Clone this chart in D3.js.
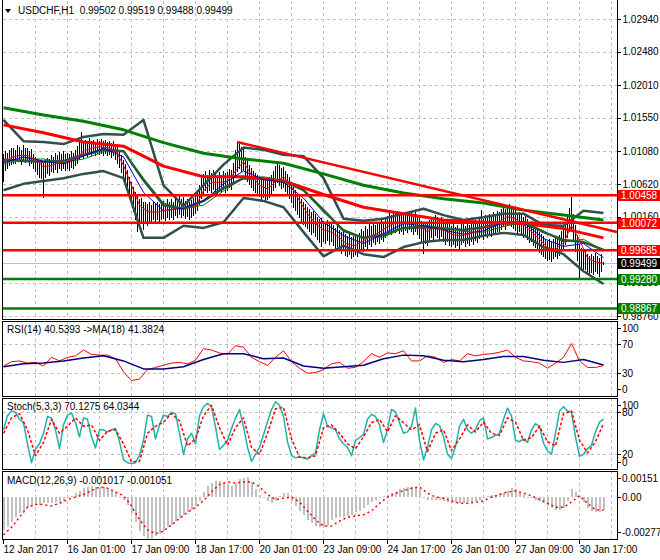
<!DOCTYPE html>
<html>
<head>
<meta charset="utf-8">
<script src="https://cdn.jsdelivr.net/npm/d3@7/dist/d3.min.js"></script>
<style>
  body { margin: 0; background: #fff; }
  svg text { font-family: 'Liberation Sans', Arial, sans-serif; font-size: 10px; white-space: pre; }
</style>
</head>
<body>
<svg id="chart" width="660" height="560"></svg>
<script>
// ---- data (H1 bars, bar 0 = 12 Jan 2017) ----
var symbol = 'USDCHF,H1';
var lastBar = [0.99502, 0.99519, 0.99488, 0.99499];
var timeLabels = ['12 Jan 2017', '16 Jan 01:00', '17 Jan 09:00', '18 Jan 17:00', '20 Jan 01:00',
  '23 Jan 09:00', '24 Jan 17:00', '26 Jan 01:00', '27 Jan 09:00', '30 Jan 17:00'];
var priceTicks = [1.02940, 1.02480, 1.02010, 1.01550, 1.01080, 1.00620, 1.00160, 0.99700, 0.99230, 0.98760];
var redLevels = [1.00458, 1.00072, 0.99685];
var greenLevels = [0.99280, 0.98867];
var trendStart = [117, 1.0121];
var trendEnd = [300, 0.9999];
var rsiLevels = [100, 70, 30, 0];
var stochLevels = [100, 80, 20, 0];
var macdTicks = [0.00151, 0, -0.002771];

var closes = [
  1.0090,1.0096,1.0094,1.0099,1.0097,1.0102,1.0100,1.0105,1.0103,1.0099,1.0106,1.0102,1.0104,1.0098,1.0101,1.0094,
  1.0090,1.0086,1.0082,1.0085,1.0080,1.0084,1.0088,1.0086,1.0091,1.0089,1.0094,1.0091,1.0095,1.0092,1.0096,1.0093,
  1.0095,1.0092,1.0097,1.0094,1.0099,1.0104,1.0108,1.0112,1.0109,1.0113,1.0111,1.0115,1.0112,1.0114,1.0111,1.0115,
  1.0113,1.0116,1.0112,1.0115,1.0111,1.0113,1.0110,1.0112,1.0107,1.0104,1.0097,1.0090,1.0084,1.0076,1.0068,1.0058,
  1.0050,1.0042,1.0036,1.0030,1.0025,1.0028,1.0021,1.0024,1.0019,1.0023,1.0020,1.0024,1.0021,1.0025,1.0022,1.0024,
  1.0026,1.0023,1.0027,1.0024,1.0028,1.0025,1.0030,1.0027,1.0032,1.0028,1.0031,1.0026,1.0029,1.0024,1.0027,1.0030,
  1.0033,1.0038,1.0047,1.0056,1.0062,1.0066,1.0061,1.0067,1.0063,1.0068,1.0064,1.0060,1.0066,1.0062,1.0067,1.0064,
  1.0066,1.0070,1.0068,1.0078,1.0088,1.0094,1.0099,1.0093,1.0096,1.0086,1.0080,1.0075,1.0071,1.0067,1.0064,1.0060,
  1.0058,1.0054,1.0057,1.0052,1.0055,1.0058,1.0062,1.0066,1.0072,1.0078,1.0074,1.0070,1.0072,1.0066,1.0062,1.0056,
  1.0050,1.0044,1.0040,1.0034,1.0030,1.0026,1.0022,1.0018,1.0016,1.0011,1.0008,1.0010,1.0004,1.0001,0.9998,1.0000,
  0.9996,0.9993,0.9997,0.9992,0.9995,0.9990,0.9986,0.9989,0.9983,0.9980,0.9984,0.9977,0.9974,0.9978,0.9972,0.9975,
  0.9977,0.9974,0.9980,0.9984,0.9982,0.9988,0.9985,0.9991,0.9988,0.9994,0.9990,0.9995,0.9992,0.9998,0.9995,1.0001,
  1.0004,1.0008,1.0005,1.0010,1.0007,1.0011,1.0006,1.0009,1.0005,1.0010,1.0007,1.0011,1.0008,1.0004,1.0009,1.0005,
  1.0000,0.9996,0.9993,0.9995,0.9991,0.9997,1.0002,0.9999,1.0004,1.0001,0.9998,1.0002,0.9996,0.9993,0.9997,0.9991,
  0.9988,0.9992,0.9987,0.9990,0.9986,0.9991,0.9994,0.9989,0.9993,0.9990,0.9995,0.9992,0.9997,0.9994,1.0000,1.0003,
  0.9999,1.0004,1.0001,1.0006,1.0003,1.0008,1.0005,1.0010,1.0008,1.0013,1.0016,1.0013,1.0018,1.0020,1.0016,1.0014,
  1.0011,1.0007,1.0009,1.0004,1.0001,1.0003,0.9998,0.9994,0.9996,0.9990,0.9987,0.9984,0.9980,0.9977,0.9974,0.9971,
  0.9968,0.9970,0.9966,0.9970,0.9973,0.9971,0.9976,0.9981,0.9986,0.9993,1.0002,1.0010,1.0016,1.0002,0.9985,0.9972,
  0.9962,0.9958,0.9953,0.9956,0.9950,0.9947,0.9951,0.9948,0.9953,0.9949,0.9946,0.9951,0.9950
];
var highs = [
  1.0104,1.0108,1.0105,1.0110,1.0112,1.0113,1.0109,1.0116,1.0114,1.0110,1.0117,1.0112,1.0113,1.0108,1.0111,1.0104,
  1.0100,1.0097,1.0094,1.0096,1.0092,1.0095,1.0099,1.0097,1.0103,1.0100,1.0106,1.0102,1.0107,1.0104,1.0108,1.0104,
  1.0105,1.0104,1.0108,1.0106,1.0110,1.0115,1.0122,1.0135,1.0121,1.0124,1.0122,1.0126,1.0122,1.0124,1.0121,1.0125,
  1.0123,1.0125,1.0122,1.0124,1.0121,1.0123,1.0120,1.0122,1.0118,1.0114,1.0109,1.0102,1.0096,1.0090,1.0082,1.0072,
  1.0064,1.0058,1.0050,1.0046,1.0040,1.0042,1.0036,1.0037,1.0033,1.0036,1.0032,1.0036,1.0033,1.0037,1.0034,1.0036,
  1.0038,1.0035,1.0040,1.0036,1.0040,1.0037,1.0043,1.0039,1.0046,1.0041,1.0044,1.0038,1.0041,1.0036,1.0039,1.0042,
  1.0045,1.0052,1.0060,1.0070,1.0076,1.0080,1.0075,1.0081,1.0077,1.0082,1.0077,1.0074,1.0079,1.0075,1.0080,1.0077,
  1.0079,1.0083,1.0082,1.0092,1.0110,1.0121,1.0118,1.0114,1.0112,1.0100,1.0094,1.0089,1.0084,1.0080,1.0077,1.0074,
  1.0071,1.0068,1.0070,1.0066,1.0068,1.0071,1.0075,1.0080,1.0087,1.0093,1.0088,1.0084,1.0086,1.0080,1.0076,1.0071,
  1.0064,1.0058,1.0054,1.0049,1.0045,1.0041,1.0037,1.0033,1.0030,1.0026,1.0023,1.0024,1.0019,1.0016,1.0013,1.0014,
  1.0010,1.0007,1.0011,1.0006,1.0009,1.0004,1.0000,1.0002,0.9997,0.9994,0.9998,0.9991,0.9989,0.9992,0.9987,0.9989,
  0.9990,0.9988,0.9993,0.9998,0.9996,1.0002,0.9999,1.0005,1.0002,1.0008,1.0004,1.0009,1.0006,1.0012,1.0009,1.0015,
  1.0017,1.0021,1.0018,1.0023,1.0020,1.0024,1.0019,1.0022,1.0018,1.0023,1.0020,1.0024,1.0021,1.0017,1.0022,1.0018,
  1.0014,1.0010,1.0008,1.0009,1.0006,1.0011,1.0016,1.0013,1.0018,1.0015,1.0012,1.0016,1.0010,1.0008,1.0011,1.0005,
  1.0002,1.0006,1.0001,1.0004,1.0000,1.0005,1.0008,1.0003,1.0007,1.0004,1.0009,1.0006,1.0011,1.0008,1.0014,1.0025,
  1.0013,1.0018,1.0015,1.0020,1.0017,1.0022,1.0019,1.0024,1.0022,1.0027,1.0030,1.0027,1.0032,1.0034,1.0030,1.0028,
  1.0025,1.0021,1.0023,1.0018,1.0015,1.0017,1.0012,1.0008,1.0010,1.0004,1.0001,0.9998,0.9994,0.9991,0.9988,0.9985,
  0.9982,0.9984,0.9980,0.9984,0.9987,0.9985,0.9990,0.9996,1.0001,1.0008,1.0018,1.0028,1.0044,1.0020,1.0004,0.9990,
  0.9978,0.9972,0.9967,0.9969,0.9963,0.9960,0.9963,0.9960,0.9965,0.9961,0.9958,0.9963,0.9952
];
var lows = [
  1.0066,1.0082,1.0085,1.0088,1.0090,1.0091,1.0092,1.0096,1.0095,1.0090,1.0096,1.0093,1.0095,1.0089,1.0092,1.0084,
  1.0080,1.0076,1.0072,1.0070,1.0044,1.0072,1.0077,1.0074,1.0080,1.0078,1.0083,1.0079,1.0084,1.0081,1.0085,1.0082,
  1.0085,1.0082,1.0086,1.0084,1.0088,1.0092,1.0097,1.0101,1.0099,1.0102,1.0101,1.0104,1.0103,1.0105,1.0102,1.0106,
  1.0104,1.0106,1.0103,1.0105,1.0102,1.0104,1.0100,1.0102,1.0097,1.0092,1.0086,1.0078,1.0071,1.0063,1.0055,1.0044,
  1.0036,1.0024,1.0012,0.9996,1.0005,1.0010,0.9998,1.0008,1.0004,1.0009,1.0007,1.0012,1.0009,1.0013,1.0010,1.0012,
  1.0014,1.0011,1.0015,1.0012,1.0016,1.0013,1.0018,1.0015,1.0019,1.0016,1.0018,1.0014,1.0017,1.0012,1.0015,1.0018,
  1.0021,1.0025,1.0033,1.0042,1.0049,1.0053,1.0050,1.0054,1.0051,1.0055,1.0052,1.0047,1.0053,1.0050,1.0055,1.0051,
  1.0054,1.0057,1.0055,1.0064,1.0072,1.0080,1.0085,1.0080,1.0082,1.0070,1.0066,1.0062,1.0058,1.0054,1.0050,1.0047,
  1.0045,1.0040,1.0043,1.0038,1.0041,1.0044,1.0049,1.0053,1.0058,1.0064,1.0060,1.0056,1.0058,1.0052,1.0048,1.0042,
  1.0036,1.0030,1.0025,1.0019,1.0015,1.0010,1.0006,1.0002,1.0000,0.9995,0.9991,0.9994,0.9988,0.9984,0.9980,0.9975,
  0.9982,0.9979,0.9983,0.9978,0.9981,0.9976,0.9972,0.9975,0.9969,0.9965,0.9970,0.9962,0.9960,0.9963,0.9958,0.9961,
  0.9963,0.9960,0.9966,0.9970,0.9968,0.9974,0.9972,0.9977,0.9975,0.9980,0.9977,0.9981,0.9979,0.9984,0.9982,0.9987,
  0.9991,0.9995,0.9992,0.9997,0.9994,0.9998,0.9993,0.9996,0.9992,0.9997,0.9994,0.9998,0.9995,0.9991,0.9996,0.9992,
  0.9986,0.9980,0.9965,0.9979,0.9976,0.9982,0.9987,0.9985,0.9990,0.9987,0.9983,0.9988,0.9981,0.9978,0.9982,0.9976,
  0.9974,0.9978,0.9973,0.9976,0.9972,0.9977,0.9980,0.9975,0.9979,0.9976,0.9981,0.9978,0.9983,0.9980,0.9986,0.9989,
  0.9985,0.9990,0.9987,0.9992,0.9989,0.9994,0.9991,0.9996,0.9994,0.9999,1.0002,0.9999,1.0004,1.0006,1.0002,1.0000,
  0.9997,0.9993,0.9995,0.9990,0.9987,0.9989,0.9984,0.9980,0.9982,0.9976,0.9973,0.9970,0.9966,0.9963,0.9960,0.9958,
  0.9955,0.9956,0.9953,0.9957,0.9960,0.9958,0.9962,0.9967,0.9972,0.9978,0.9987,0.9995,1.0000,0.9985,0.9968,0.9955,
  0.9931,0.9942,0.9939,0.9942,0.9937,0.9934,0.9938,0.9935,0.9940,0.9936,0.9933,0.9939,0.9949
];

// indicator lines, each sampled evenly from bar 0 to bar 300
var maSlowGreen = [1.0169,1.0159,1.0150,1.0138,1.0120,1.0105,1.0097,1.0091,1.0076,1.0060,1.0049,1.0041,1.0035,1.0025,1.0018,1.0011];
var maSlowRed = [1.0145,1.0134,1.0121,1.0115,1.0087,1.0072,1.0072,1.0066,1.0047,1.0029,1.0020,1.0011,1.0008,1.0006,0.9999,0.9986];
var bandUpper = [1.0152,1.0122,1.0121,1.0118,1.0128,1.0132,1.0131,1.0152,1.0060,1.0031,1.0060,1.0089,1.0113,1.0110,1.0103,1.0101,
  1.0070,1.0013,1.0010,1.0013,1.0020,1.0027,1.0018,1.0011,1.0015,1.0020,1.0020,1.0004,1.0003,1.0024,1.0021];
var bandMiddle = [1.0096,1.0094,1.0093,1.0094,1.0103,1.0110,1.0108,1.0067,1.0032,1.0027,1.0038,1.0056,1.0070,1.0069,1.0066,1.0053,
  1.0025,0.9996,0.9986,0.9990,1.0000,1.0001,0.9999,0.9997,1.0001,1.0007,1.0008,0.9994,0.9983,0.9980,0.9969];
var bandLower = [1.0053,1.0062,1.0066,1.0070,1.0076,1.0080,1.0070,0.9986,0.9986,1.0003,1.0000,1.0008,1.0042,1.0038,1.0029,0.9994,
  0.9960,0.9975,0.9963,0.9959,0.9973,0.9980,0.9983,0.9983,0.9989,0.9993,0.9990,0.9973,0.9963,0.9939,0.9921];
var maFastRed = [1.0093,1.0099,1.0102,1.0102,1.0096,1.0086,1.0088,1.0092,1.0094,1.0097,
  1.0108,1.0112,1.0114,1.0113,1.0109,1.0088,1.0060,1.0032,1.0023,1.0022,
  1.0024,1.0026,1.0029,1.0028,1.0030,1.0052,1.0064,1.0064,1.0066,1.0080,
  1.0093,1.0074,1.0060,1.0055,1.0065,1.0072,1.0058,1.0038,1.0020,1.0006,
  0.9997,0.9994,0.9986,0.9977,0.9975,0.9982,0.9989,0.9994,1.0002,1.0007,
  1.0008,1.0008,1.0001,0.9995,1.0001,0.9997,0.9991,0.9989,0.9991,0.9994,
  1.0001,1.0004,1.0009,1.0016,1.0013,1.0004,0.9995,0.9984,0.9972,0.9970,
  0.9979,1.0003,0.9983,0.9958,0.9952,0.9950];
var maBlue = [1.0092,1.0100,1.0094,1.0090,1.0101,1.0112,1.0100,1.0050,1.0024,1.0028,1.0038,1.0062,1.0080,1.0068,1.0064,1.0042,
  1.0008,0.9989,0.9978,0.9992,1.0006,1.0003,0.9997,0.9991,0.9996,1.0008,1.0008,0.9985,0.9974,0.9978,0.9958];
var maGreen = [1.0090,1.0097,1.0097,1.0092,1.0097,1.0107,1.0108,1.0070,1.0035,1.0027,1.0032,1.0052,1.0070,1.0072,1.0066,1.0052,
  1.0022,0.9998,0.9986,0.9987,1.0000,1.0004,1.0000,0.9995,0.9994,1.0002,1.0008,0.9996,0.9980,0.9984,0.9968];

var rsi = [40,46,47,44,45,40,52,47,52,54,
  62,56,55,55,50,32,20,22,35,38,
  41,44,45,43,48,64,62,58,56,68,
  66,52,46,41,52,61,46,37,30,31,
  35,43,45,37,38,46,57,52,58,57,
  61,47,47,54,52,45,49,47,57,54,
  56,57,59,62,52,47,46,44,37,44,
  52,71,47,38,38,40.54];
var rsiMa = [39,43,44,47,51,54,47,36,36,39,49,57,57,50,51,40,37,39,41,50,55,54,48,46,49,53,53,48,45,49,41.38];

var stochMain = [55,75,82,80,70,65,35,8,27,35,
  50,74,72,55,28,62,76,79,65,45,
  72,70,45,29,55,55,52,55,57,38,
  12,8,7,8,18,40,76,74,42,62,
  76,74,80,78,50,20,42,50,35,75,
  88,93,88,59,27,33,40,57,72,84,
  60,30,10,20,30,48,66,84,95,90,
  74,38,18,15,16,15,13,18,22,55,
  78,60,58,55,42,35,30,18,40,44,
  48,70,77,74,62,37,55,84,81,65,
  50,52,60,86,40,12,30,55,64,61,
  45,20,14,31,60,70,55,50,55,68,
  72,42,44,47,50,70,86,75,40,38,
  42,37,55,64,60,36,25,20,50,82,
  88,82,80,45,17,20,28,33,52,66,
  70.13];
var stochSignal = [50,72,78,55,18,37,70,50,60,72,
  60,62,40,53,55,35,9,10,50,60,
  66,78,68,32,42,75,90,58,33,58,
  72,30,20,50,85,87,42,16,15,18,
  58,62,50,35,28,45,65,70,52,75,
  65,55,62,24,50,55,25,42,62,52,
  66,50,47,72,66,40,44,60,38,32,
  78,82,40,22,38,64.03];

var macdMain = [-0.0026,-0.0024,-0.0020,-0.0016,-0.0013,-0.0011,-0.0009,-0.0007,-0.0006,-0.0006,
  -0.0005,-0.0005,-0.0005,-0.0004,-0.0004,-0.0003,-0.0001,0.0001,0.0003,0.0005,
  0.0007,0.0008,0.0009,0.0008,0.0008,0.0008,0.0007,0.0005,0.0003,0.0000,
  -0.0002,-0.0006,-0.0013,-0.0020,-0.0027,-0.0031,-0.0033,-0.0033,-0.0031,-0.0029,
  -0.0027,-0.0024,-0.0022,-0.0019,-0.0017,-0.0014,-0.0012,-0.0010,-0.0007,-0.0003,
  0.0004,0.0009,0.0011,0.0013,0.0013,0.0012,0.0010,0.0009,0.0011,0.0014,
  0.0015,0.0016,0.0012,0.0006,0.0002,-0.0001,-0.0003,-0.0005,-0.0003,0.0001,
  0.0003,0.0003,-0.0003,-0.0007,-0.0011,-0.0014,-0.0018,-0.0021,-0.0023,-0.0024,
  -0.0024,-0.0022,-0.0018,-0.0017,-0.0016,-0.0016,-0.0015,-0.0014,-0.0012,-0.0011,
  -0.0009,-0.0006,-0.0004,-0.0002,0.0000,0.0001,0.0002,0.0003,0.0004,0.0006,
  0.0007,0.0008,0.0008,0.0008,0.0006,-0.0001,-0.0002,-0.0002,-0.0002,-0.0002,
  -0.0003,-0.0004,-0.0005,-0.0005,-0.0005,-0.0005,-0.0004,-0.0004,-0.0003,-0.0002,
  0.0000,0.0001,0.0002,0.0002,0.0003,0.0003,0.0005,0.0007,0.0006,0.0004,
  0.0002,0.0000,-0.0001,-0.0002,-0.0003,-0.0005,-0.0007,-0.0009,-0.0010,-0.0010,
  -0.0009,-0.0003,0.0006,0.0004,0.0001,-0.0004,-0.0009,-0.0011,-0.0012,-0.0012,
  -0.001017];
var macdSignal = [-0.0030,-0.0024,-0.0016,-0.0008,-0.0006,-0.0006,-0.0007,-0.0005,-0.0002,0.0000,
  0.0002,0.0005,0.0008,0.0007,0.0004,0.0001,-0.0007,-0.0018,-0.0026,-0.0029,
  -0.0027,-0.0022,-0.0017,-0.0012,-0.0008,-0.0003,0.0004,0.0010,0.0012,0.0011,
  0.0012,0.0012,0.0008,0.0002,-0.0002,-0.0001,0.0000,-0.0004,-0.0011,-0.0018,
  -0.0023,-0.0023,-0.0019,-0.0016,-0.0015,-0.0014,-0.0011,-0.0005,0.0000,0.0003,
  0.0005,0.0007,0.0008,0.0003,0.0000,-0.0001,-0.0003,-0.0005,-0.0005,-0.0004,
  -0.0003,0.0000,0.0002,0.0004,0.0005,0.0003,0.0001,-0.0002,-0.0005,-0.0008,
  -0.0008,-0.0004,0.0001,-0.0005,-0.0010,-0.001051];

// ---- drawing ----
var svg = d3.select('#chart');
var lastIndex = closes.length - 1;
var x = d3.scaleLinear().domain([0, 307]).range([3, 617]);
var yMain = d3.scaleLinear().domain([0.98760, 1.02940]).range([316, 19]);
var yRsi = d3.scaleLinear().domain([0, 100]).range([395, 322.5]);
var yStoch = d3.scaleLinear().domain([0, 100]).range([468.3, 398.3]);
var yMacd = d3.scaleLinear().domain([-0.002771, 0.00151]).range([532, 478]);

var panels = [
  { id: 'main', top: 1, bottom: 319, y: yMain, grid: priceTicks },
  { id: 'rsi', top: 321, bottom: 396, y: yRsi, grid: [70, 30] },
  { id: 'stoch', top: 398, bottom: 469, y: yStoch, grid: [80, 20] },
  { id: 'macd', top: 471, bottom: 539, y: yMacd, grid: [] }
];

var defs = svg.append('defs');
var layer = {};
panels.forEach(function(p) {
  defs.append('clipPath').attr('id', 'clip-' + p.id).append('rect')
    .attr('x', 3).attr('y', p.top).attr('width', 614).attr('height', p.bottom - p.top);
  var g = svg.append('g').attr('clip-path', 'url(#clip-' + p.id + ')');
  g.selectAll('line.vgrid').data(d3.range(16, 308, 16)).enter().append('line')
    .attr('x1', function(b) { return x(b) + 0.5; }).attr('x2', function(b) { return x(b) + 0.5; })
    .attr('y1', p.top).attr('y2', p.bottom)
    .attr('stroke', '#c0c0c0').attr('stroke-dasharray', '3,3').attr('shape-rendering', 'crispEdges');
  g.selectAll('line.hgrid').data(p.grid).enter().append('line')
    .attr('x1', 3).attr('x2', 617)
    .attr('y1', function(v) { return Math.round(p.y(v)) + 0.5; })
    .attr('y2', function(v) { return Math.round(p.y(v)) + 0.5; })
    .attr('stroke', '#c0c0c0').attr('stroke-dasharray', '3,3').attr('shape-rendering', 'crispEdges');
  layer[p.id] = g;
});

function points(values) {
  var step = lastIndex / (values.length - 1);
  return values.map(function(v, k) { return [k * step, v]; });
}

function plot(g, values, y, color, width, dash) {
  var line = d3.line()
    .x(function(d) { return x(d[0]) + 0.5; })
    .y(function(d) { return y(d[1]); });
  return g.append('path').datum(points(values)).attr('d', line)
    .attr('fill', 'none').attr('stroke', color).attr('stroke-width', width)
    .attr('stroke-linejoin', 'round').attr('stroke-dasharray', dash || null);
}

// main window
var main = layer.main;
main.append('line').attr('x1', 3).attr('x2', 617)
  .attr('y1', Math.round(yMain(lastBar[3])) + 0.5).attr('y2', Math.round(yMain(lastBar[3])) + 0.5)
  .attr('stroke', '#c0c0c0').attr('shape-rendering', 'crispEdges');

main.selectAll('line.bar').data(closes).enter().append('line')
  .attr('x1', function(c, i) { return x(i) + 0.5; }).attr('x2', function(c, i) { return x(i) + 0.5; })
  .attr('y1', function(c, i) { return Math.round(yMain(highs[i])); })
  .attr('y2', function(c, i) { return Math.round(yMain(lows[i])) + 1; })
  .attr('stroke', '#000').attr('shape-rendering', 'crispEdges');

plot(main, bandUpper, yMain, '#2f4f4f', 2.5);
plot(main, bandMiddle, yMain, '#2f4f4f', 2.5);
plot(main, bandLower, yMain, '#2f4f4f', 2.5);
plot(main, maSlowGreen, yMain, '#008000', 3);
plot(main, maSlowRed, yMain, '#ff0000', 3);
plot(main, maGreen, yMain, '#008000', 1);
plot(main, maBlue, yMain, '#0000cd', 1);
plot(main, maFastRed, yMain, '#ff0000', 1);

main.selectAll('line.red-level').data(redLevels).enter().append('line')
  .attr('x1', 3).attr('x2', 617)
  .attr('y1', function(v) { return yMain(v); }).attr('y2', function(v) { return yMain(v); })
  .attr('stroke', '#ff0000').attr('stroke-width', 2.5);
main.selectAll('line.green-level').data(greenLevels).enter().append('line')
  .attr('x1', 3).attr('x2', 617)
  .attr('y1', function(v) { return yMain(v); }).attr('y2', function(v) { return yMain(v); })
  .attr('stroke', '#008000').attr('stroke-width', 2.5);

var slope = (trendEnd[1] - trendStart[1]) / (trendEnd[0] - trendStart[0]);
main.append('line')
  .attr('x1', x(trendStart[0])).attr('y1', yMain(trendStart[1]))
  .attr('x2', x(307)).attr('y2', yMain(trendStart[1] + slope * (307 - trendStart[0])))
  .attr('stroke', '#ff0000').attr('stroke-width', 2.5);

// RSI
plot(layer.rsi, rsi, yRsi, '#ff0000', 1);
plot(layer.rsi, rsiMa, yRsi, '#000080', 1.5);

// Stochastic
plot(layer.stoch, stochMain, yStoch, '#20b2aa', 1.5);
plot(layer.stoch, stochSignal, yStoch, '#ff0000', 1.5, '3,2');

// MACD
var macdStep = lastIndex / (macdMain.length - 1);
layer.macd.selectAll('rect.hist').data(macdMain).enter().append('rect')
  .attr('x', function(v, k) { return x(k * macdStep); })
  .attr('width', 2)
  .attr('y', function(v) { return Math.round(Math.min(yMacd(v), yMacd(0))); })
  .attr('height', function(v) { return Math.max(1, Math.round(Math.abs(yMacd(v) - yMacd(0)))); })
  .attr('fill', '#c0c0c0').attr('shape-rendering', 'crispEdges');
plot(layer.macd, macdSignal, yMacd, '#ff0000', 1.5, '2,3');

// frames
svg.append('path').attr('d', 'M2.5,0V319.5H617.5V0')
  .attr('fill', 'none').attr('stroke', '#000').attr('shape-rendering', 'crispEdges');
panels.slice(1).forEach(function(p) {
  svg.append('rect').attr('x', 2.5).attr('y', p.top + 0.5)
    .attr('width', 615).attr('height', p.bottom - p.top)
    .attr('fill', 'none').attr('stroke', '#000').attr('shape-rendering', 'crispEdges');
});

// right price scale
var axisMain = svg.append('g').attr('transform', 'translate(617.5,0)')
  .call(d3.axisRight(yMain).tickValues(priceTicks).tickFormat(d3.format('.5f')).tickSize(3).tickPadding(2));
axisMain.select('.domain').remove();

function sideLabels(p, values, fmt) {
  var g = svg.append('g');
  values.forEach(function(v) {
    var yy = Math.max(p.top + 7, Math.min(p.bottom - 7, p.y(v)));
    g.append('line').attr('x1', 617.5).attr('x2', 620.5)
      .attr('y1', Math.round(yy) + 0.5).attr('y2', Math.round(yy) + 0.5)
      .attr('stroke', '#000').attr('shape-rendering', 'crispEdges');
    g.append('text').attr('x', 622).attr('y', yy + 3.5).text(fmt(v));
  });
}
sideLabels(panels[1], rsiLevels, String);
sideLabels(panels[2], stochLevels, String);
sideLabels(panels[3], macdTicks, function(v) { return v === 0 ? '0.00' : String(v); });

function priceBox(v, color) {
  var yy = yMain(v);
  svg.append('rect').attr('x', 618).attr('y', Math.round(yy) - 5).attr('width', 42).attr('height', 11)
    .attr('fill', color);
  svg.append('text').attr('x', 621).attr('y', Math.round(yy) + 4).attr('fill', '#fff')
    .text(d3.format('.5f')(v));
}
redLevels.forEach(function(v) { priceBox(v, '#ff0000'); });
greenLevels.forEach(function(v) { priceBox(v, '#008000'); });
priceBox(lastBar[3], '#000');

// time scale
var axisTime = svg.append('g').attr('transform', 'translate(0,539.5)')
  .call(d3.axisBottom(x).tickValues(timeLabels.map(function(t, k) { return k * 32; }))
    .tickFormat(function(b) { return timeLabels[b / 32]; }).tickSize(4).tickPadding(2));
axisTime.select('.domain').remove();
axisTime.selectAll('text').attr('text-anchor', 'start').attr('x', 0);
svg.selectAll('.tick text').attr('font-family', null).attr('font-size', null).attr('fill', '#000');
svg.selectAll('.tick line').attr('shape-rendering', 'crispEdges');

// captions
svg.append('path').attr('d', 'M5,9H11L8,13Z').attr('fill', '#000');
svg.append('text').attr('x', 18).attr('y', 14)
  .text(symbol + '  ' + lastBar.map(d3.format('.5f')).join(' '));
svg.append('text').attr('x', 7).attr('y', 333).text('RSI(14) 40.5393 ->MA(18) 41.3824');
svg.append('text').attr('x', 7).attr('y', 410).text('Stoch(5,3,3) 70.1275 64.0344');
svg.append('text').attr('x', 7).attr('y', 484).text('MACD(12,26,9) -0.001017 -0.001051');
</script>
</body>
</html>
